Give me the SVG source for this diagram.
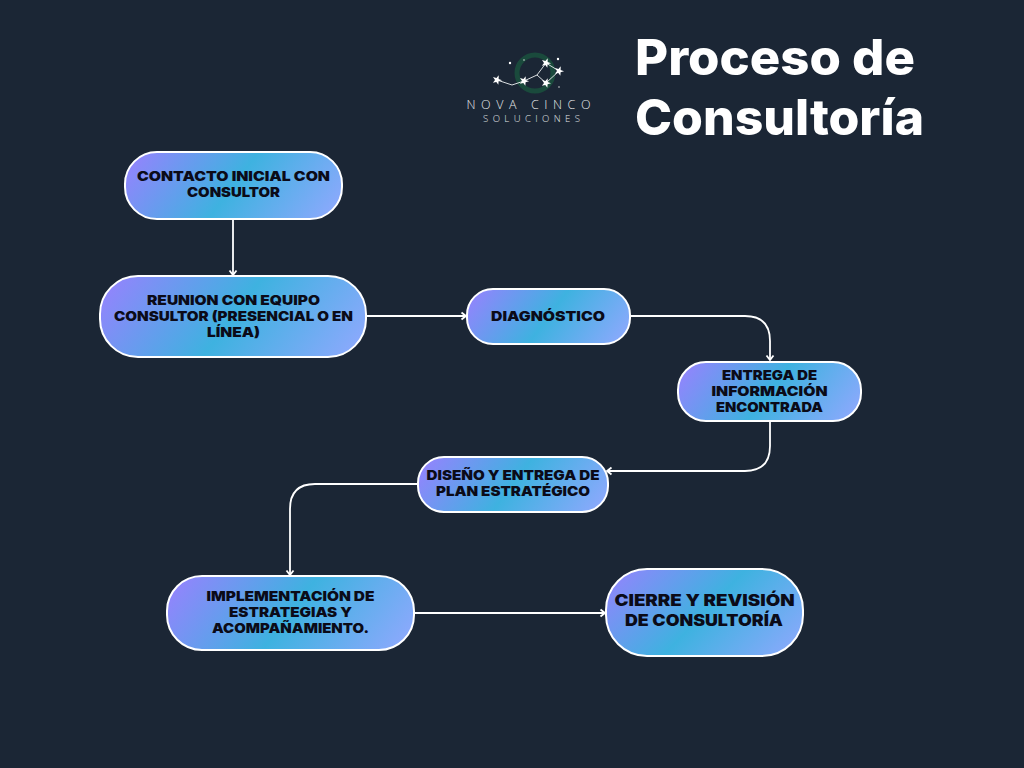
<svg xmlns="http://www.w3.org/2000/svg" width="1024" height="768" viewBox="0 0 1024 768">
<style>
.n{stroke:#fff;stroke-width:2}
.t{font-family:Inter,"Liberation Sans",sans-serif;font-weight:900;font-size:13.6px;fill:#0b0b18;text-anchor:middle}
.b{font-size:16px}
.h{font-family:Inter,"Liberation Sans",sans-serif;font-weight:800;font-size:50px;fill:#fff}
.c{fill:none;stroke:#fff;stroke-width:1.8;marker-end:url(#a)}
.l{font-family:"Open Sans","Liberation Sans",sans-serif;font-weight:300;fill:#e4e6e8;text-anchor:middle}
.s{fill:#fff}
.k{fill:none;stroke:#d8dcdf;stroke-width:1}
</style>
<defs>
<linearGradient id="g"><stop offset="0" stop-color="#9a80ff"/><stop offset=".5" stop-color="#3eb2e0"/><stop offset="1" stop-color="#93a8ff"/></linearGradient>
<linearGradient id="g1" href="#g" gradientUnits="userSpaceOnUse" x1="148" y1="121.500" x2="319" y2="249.500"/>
<linearGradient id="g2" href="#g" gradientUnits="userSpaceOnUse" x1="128.400" y1="238.100" x2="337.600" y2="394.900"/>
<linearGradient id="g3" href="#g" gradientUnits="userSpaceOnUse" x1="483.100" y1="267.500" x2="613.900" y2="365.500"/>
<linearGradient id="g4" href="#g" gradientUnits="userSpaceOnUse" x1="696.800" y1="337" x2="842.200" y2="446"/>
<linearGradient id="g5" href="#g" gradientUnits="userSpaceOnUse" x1="439" y1="429" x2="587" y2="540"/>
<linearGradient id="g6" href="#g" gradientUnits="userSpaceOnUse" x1="193.700" y1="540.400" x2="387.300" y2="685.600"/>
<linearGradient id="g7" href="#g" gradientUnits="userSpaceOnUse" x1="630" y1="541" x2="779" y2="684"/>
<marker id="a" markerUnits="userSpaceOnUse" markerWidth="12" markerHeight="12" refX="8" refY="6" orient="auto"><path d="M3.500 2.500L8 6L3.500 9.500" fill="none" stroke="#fff" stroke-width="1.8"/></marker>
<path id="st" d="M0-5L1.200-1.600L4.800-1.500L1.900 .6L2.900 4L0 2L-2.900 4L-1.900 .6L-4.800-1.500L-1.200-1.600Z"/>
</defs>
<rect width="1024" height="768" fill="#1b2635"/>
<g id="logo">
<circle cx="535" cy="73" r="18" fill="none" stroke="#1a4a3c" stroke-width="5"/>
<path class="k" d="M497 80L512 85L524 81L537 75L546 63L559 71L546 83L537 75"/>
<g class="s">
<use href="#st" transform="translate(497,80) rotate(20)"/><use href="#st" transform="translate(524,81) rotate(20)"/><use href="#st" transform="translate(546,63) rotate(20)"/><use href="#st" transform="translate(559,71) rotate(20)"/><use href="#st" transform="translate(546,83) rotate(20)"/>
<circle cx="510" cy="63" r="1.200"/><circle cx="558" cy="59" r="1.200"/><circle cx="524" cy="60" r=".7"/><circle cx="559" cy="87" r=".7"/>
</g>
<text class="l" x="528.500" y="109" font-size="12.500" textLength="124" lengthAdjust="spacing">NOVA CINCO</text>
<text class="l" x="531.500" y="122" font-size="9.500" textLength="97" lengthAdjust="spacing">SOLUCIONES</text>
</g>
<g id="title"><text class="h" x="635" y="75" textLength="280" lengthAdjust="spacingAndGlyphs">Proceso de</text><text class="h" x="635" y="135" textLength="289" lengthAdjust="spacingAndGlyphs">Consultoría</text></g>
<g id="connectors">
<path class="c" d="M233 219V275"/>
<path class="c" d="M367 316H466"/>
<path class="c" d="M630 316H745Q770 316 770 341V360"/>
<path class="c" d="M770 421V446Q770 471 745 471H607"/>
<path class="c" d="M418 484H315Q290 484 290 509V575"/>
<path class="c" d="M414 613H605"/>
</g>
<g id="n1"><rect class="n" x="125" y="152" width="217" height="67" rx="32" fill="url(#g1)"/><text class="t" x="233.500" y="181" textLength="193" lengthAdjust="spacingAndGlyphs">CONTACTO INICIAL CON</text><text class="t" x="233.500" y="197" textLength="93" lengthAdjust="spacingAndGlyphs">CONSULTOR</text></g>
<g id="n2"><rect class="n" x="100" y="276" width="266" height="81" rx="38" fill="url(#g2)"/><text class="t" x="233.500" y="305" textLength="173" lengthAdjust="spacingAndGlyphs">REUNION CON EQUIPO</text><text class="t" x="233.500" y="321" textLength="239" lengthAdjust="spacingAndGlyphs">CONSULTOR (PRESENCIAL O EN</text><text class="t" x="233.500" y="337" textLength="53" lengthAdjust="spacingAndGlyphs">LÍNEA)</text></g>
<g id="n3"><rect class="n" x="467" y="289" width="163" height="55" rx="26" fill="url(#g3)"/><text class="t" x="548" y="321" textLength="114" lengthAdjust="spacingAndGlyphs">DIAGNÓSTICO</text></g>
<g id="n4"><rect class="n" x="678" y="362" width="183" height="59" rx="28" fill="url(#g4)"/><text class="t" x="769.500" y="380" textLength="95" lengthAdjust="spacingAndGlyphs">ENTREGA DE</text><text class="t" x="769.500" y="396" textLength="116" lengthAdjust="spacingAndGlyphs">INFORMACIÓN</text><text class="t" x="769.500" y="412" textLength="107" lengthAdjust="spacingAndGlyphs">ENCONTRADA</text></g>
<g id="n5"><rect class="n" x="418" y="457" width="190" height="55" rx="26" fill="url(#g5)"/><text class="t" x="513" y="480" textLength="173" lengthAdjust="spacingAndGlyphs">DISEÑO Y ENTREGA DE</text><text class="t" x="513" y="496" textLength="154" lengthAdjust="spacingAndGlyphs">PLAN ESTRATÉGICO</text></g>
<g id="n6"><rect class="n" x="167" y="576" width="247" height="74" rx="35" fill="url(#g6)"/><text class="t" x="290.500" y="601" textLength="168" lengthAdjust="spacingAndGlyphs">IMPLEMENTACIÓN DE</text><text class="t" x="290.500" y="617" textLength="123" lengthAdjust="spacingAndGlyphs">ESTRATEGIAS Y</text><text class="t" x="290.500" y="633" textLength="157" lengthAdjust="spacingAndGlyphs">ACOMPAÑAMIENTO.</text></g>
<g id="n7"><rect class="n" x="606" y="569" width="197" height="87" rx="41" fill="url(#g7)"/><text class="t b" x="704.500" y="606" textLength="180" lengthAdjust="spacingAndGlyphs">CIERRE Y REVISIÓN</text><text class="t b" x="704" y="626" textLength="158" lengthAdjust="spacingAndGlyphs">DE CONSULTORÍA</text></g>
</svg>
